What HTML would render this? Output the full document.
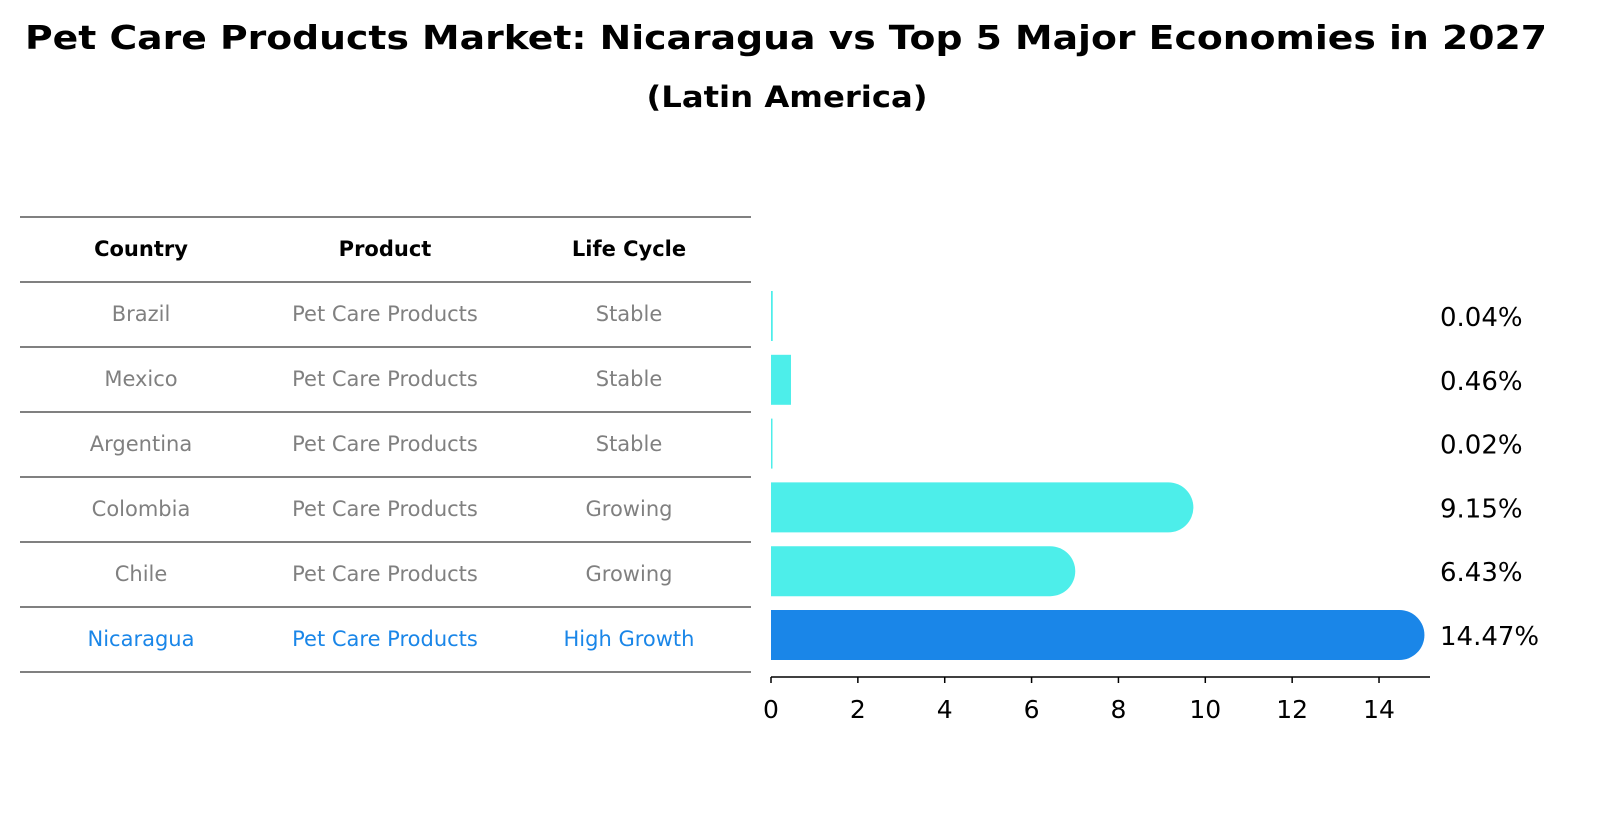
<!DOCTYPE html>
<html><head><meta charset="utf-8"><style>
body{margin:0;background:#fff;font-family:"Liberation Sans","DejaVu Sans",sans-serif;}
svg text{font-family:"DejaVu Sans","Liberation Sans",sans-serif;}
</style></head><body>
<svg id="c" width="1610" height="823" xmlns="http://www.w3.org/2000/svg">
<text x="786" y="49" text-anchor="middle" font-size="33" font-weight="bold" textLength="1522" lengthAdjust="spacingAndGlyphs">Pet Care Products Market: Nicaragua vs Top 5 Major Economies in 2027</text>
<text x="787" y="107" text-anchor="middle" font-size="29" font-weight="bold" textLength="281" lengthAdjust="spacingAndGlyphs">(Latin America)</text>
<g id="tbl"></g>
<g id="bars"></g>
</svg>
<script>
const countries=["Brazil","Mexico","Argentina","Colombia","Chile","Nicaragua"];
const products=["Pet Care Products","Pet Care Products","Pet Care Products","Pet Care Products","Pet Care Products","Pet Care Products"];
const lifeCycles=["Stable","Stable","Stable","Growing","Growing","High Growth"];
const values=[0.04,0.46,0.02,9.15,6.43,14.47];
const xTicks=[0,2,4,6,8,10,12,14];
const NS="http://www.w3.org/2000/svg";
const tbl=document.getElementById('tbl'),bars=document.getElementById('bars');
function mk(p,tag,at,txt){const e=document.createElementNS(NS,tag);for(const k in at)e.setAttribute(k,at[k]);if(txt!==undefined)e.textContent=txt;p.appendChild(e);return e;}
const x0=771,pxU=43.43,rowTop=282,rowH=65;
function xs(v){return x0+v*pxU;}
for(let i=0;i<8;i++){const y=217+i*65;const l=mk(tbl,'line',{x1:20,x2:751,y1:y,y2:y,stroke:'#000','stroke-width':1});

}
const cols=[141,385,629];
["Country","Product","Life Cycle"].forEach((h,j)=>{const t=mk(tbl,'text',{x:cols[j],y:256,'text-anchor':'middle','font-size':21,'font-weight':'bold'},h);

});
countries.forEach((c,i)=>{const y=rowTop+i*rowH+39;const hl=i===countries.length-1;const col=hl?'#1a86e8':'#808080';
[c,products[i],lifeCycles[i]].forEach((s,j)=>{const t=mk(tbl,'text',{x:cols[j],y:y,'text-anchor':'middle','font-size':21,fill:col},s);

});});
const ay=677;
const ax=mk(bars,'line',{x1:x0,x2:1430,y1:ay,y2:ay,stroke:'#000','stroke-width':1.5});


xTicks.forEach(v=>{const X=xs(v);mk(bars,'line',{x1:X,x2:X,y1:ay,y2:ay+6,stroke:'#000','stroke-width':1.5});
const t=mk(bars,'text',{x:X,y:718,'text-anchor':'middle','font-size':25},String(v));

});
values.forEach((v,i)=>{const top=291+i*63.8,h=50,X=xs(v);const hl=i===values.length-1;const col=hl?'#1a86e8':'#4deeea';
let el;
if(v>1){const r=h/2;el=mk(bars,'path',{d:`M${x0},${top}H${X}A${r},${r} 0 0 1 ${X},${top+h}H${x0}Z`,fill:col});}
else{el=mk(bars,'rect',{x:x0,y:top,width:Math.max(X-x0,1.5),height:h,fill:col});}


const t=mk(bars,'text',{x:1440,y:top+h/2+10,'font-size':26},v.toFixed(2)+'%');

});
</script>
</body></html>
